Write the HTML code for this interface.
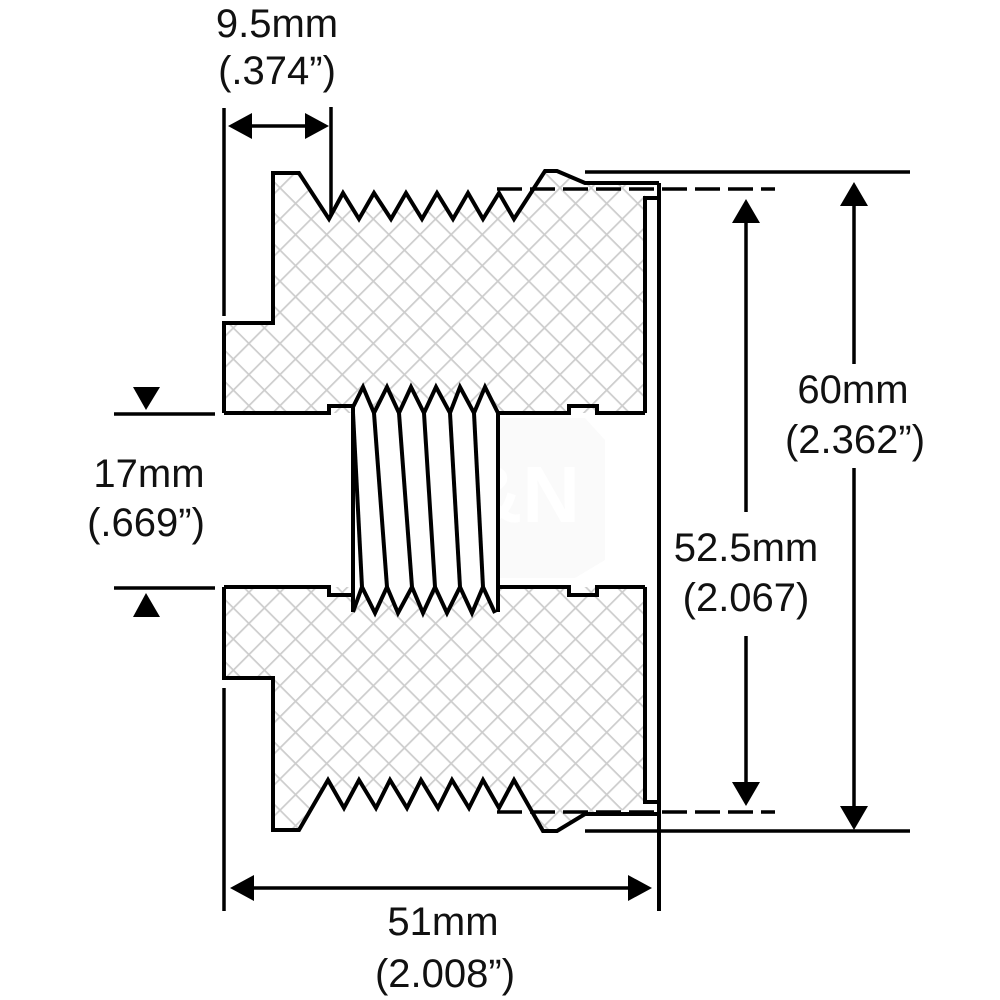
<!DOCTYPE html>
<html><head><meta charset="utf-8"><style>
html,body{margin:0;padding:0;background:#fff;}
svg{display:block;}
text{font-family:"Liberation Sans",Arial,sans-serif;font-size:40px;fill:#111;text-anchor:middle;}
</style></head><body>
<svg width="1000" height="1000" viewBox="0 0 1000 1000" xmlns="http://www.w3.org/2000/svg">
<defs>
<pattern id="h" patternUnits="userSpaceOnUse" width="22" height="22" patternTransform="rotate(45)">
<rect width="22" height="22" fill="#fff"/>
<line x1="0" y1="0" x2="22" y2="0" stroke="#cdcdcd" stroke-width="3.5"/>
<line x1="0" y1="0" x2="0" y2="22" stroke="#cdcdcd" stroke-width="3.5"/>
</pattern>
</defs>

<polygon points="395,440 430,418 585,418 605,440 605,560 575,578 425,578 395,560" fill="#fafafa"/>
<text x="500" y="522" style="font-size:80px;font-weight:bold;fill:#fff">J&amp;N</text>

<polygon fill="url(#h)" points="224,323 273,323 273,173 299,173 329,219 343,193 359,219 374,193 391,219 406,193 422,219 437,193 453,219 468,193 483,219 499,193 514,219 545,171 557,171 585,183 645,183 645,413 224,413"/>
<polygon fill="url(#h)" points="224,587 645,587 645,808 585,814 557,831 543,831 514,780 499,808 483,780 469,808 452,780 438,808 421,780 407,808 390,780 376,808 359,780 344,808 328,780 299,830 273,830 273,678 224,678"/>

<polygon fill="#fff" points="353,407 363,387 374,413 387,387 399,413 411,387 424,413 436,387 450,413 460,387 474,413 485,387 498,413 498,612 495,613 483,587 472,613 460,587 447,613 435,587 423,613 412,587 398,613 387,587 375,613 362,587 353,612"/>

<g fill="none" stroke="#000" stroke-width="4" stroke-linejoin="miter">
<polyline points="224,413 224,323 273,323 273,173 299,173 329,219 343,193 359,219 374,193 391,219 406,193 422,219 437,193 453,219 468,193 483,219 499,193 514,219 545,171 557,171 585,183 659,183"/>
<polyline points="645,413 645,198 659,198"/>
<polyline points="224,413 329,413 329,406 353,406"/>
<polyline points="498,413 569,413 569,406 597,406 597,413 645,413"/>
<polyline points="224,587 224,678 273,678 273,830 299,830 328,780 344,808 359,780 376,808 390,780 407,808 421,780 438,808 452,780 469,808 483,780 499,808 514,780 543,831 557,831 585,814 659,814"/>
<polyline points="645,587 645,802 659,802"/>
<polyline points="224,587 329,587 329,595 353,595"/>
<polyline points="498,587 569,587 569,595 597,595 597,587 645,587"/>
<polyline points="353,407 363,387 374,413 387,387 399,413 411,387 424,413 436,387 450,413 460,387 474,413 485,387 498,413"/>
<polyline points="353,612 362,587 375,613 387,587 398,613 412,587 423,613 435,587 447,613 460,587 472,613 483,587 495,613"/>
<line x1="353" y1="407" x2="353" y2="612"/>
<line x1="498" y1="413" x2="498" y2="612"/>
<line x1="353" y1="413" x2="362" y2="587"/>
<line x1="374" y1="413" x2="387" y2="587"/>
<line x1="399" y1="413" x2="412" y2="587"/>
<line x1="424" y1="413" x2="435" y2="587"/>
<line x1="450" y1="413" x2="460" y2="587"/>
<line x1="474" y1="413" x2="483" y2="587"/>
<line x1="659" y1="183" x2="659" y2="911"/>
</g>

<g stroke="#000" stroke-width="3.5" fill="none">
<line x1="224" y1="108" x2="224" y2="316"/>
<line x1="224" y1="688" x2="224" y2="911"/>
<line x1="331" y1="107" x2="331" y2="214"/>
<line x1="585" y1="172" x2="910" y2="172"/>
<line x1="585" y1="831" x2="910" y2="831"/>
<line x1="497" y1="189" x2="775" y2="189" stroke-dasharray="25,8"/>
<line x1="497" y1="812" x2="775" y2="812" stroke-dasharray="25,8"/>
<line x1="114" y1="414" x2="215" y2="414"/>
<line x1="114" y1="588" x2="215" y2="588"/>
<line x1="245" y1="126" x2="312" y2="126"/>
<line x1="245" y1="888" x2="635" y2="888"/>
<line x1="746" y1="215" x2="746" y2="512"/>
<line x1="746" y1="636" x2="746" y2="790"/>
<line x1="854" y1="200" x2="854" y2="364"/>
<line x1="854" y1="468" x2="854" y2="815"/>
</g>
<g fill="#000">
<polygon points="228,126 252,113 252,139"/>
<polygon points="329,126 305,113 305,139"/>
<polygon points="230,888 254,875 254,901"/>
<polygon points="652,888 628,875 628,901"/>
<polygon points="746,199 732,223 760,223"/>
<polygon points="746,806 732,782 760,782"/>
<polygon points="854,182 840,206 868,206"/>
<polygon points="854,830 840,806 868,806"/>
<polygon points="146,410 133,387 160,387"/>
<polygon points="146,593 133,617 160,617"/>
</g>

<text x="277" y="37">9.5mm</text>
<text x="277" y="84">(.374”)</text>
<text x="149" y="487">17mm</text>
<text x="146" y="536">(.669”)</text>
<text x="853" y="403">60mm</text>
<text x="855" y="453">(2.362”)</text>
<text x="746" y="561">52.5mm</text>
<text x="746" y="611">(2.067)</text>
<text x="443" y="935">51mm</text>
<text x="445" y="987">(2.008”)</text>
</svg>
</body></html>
